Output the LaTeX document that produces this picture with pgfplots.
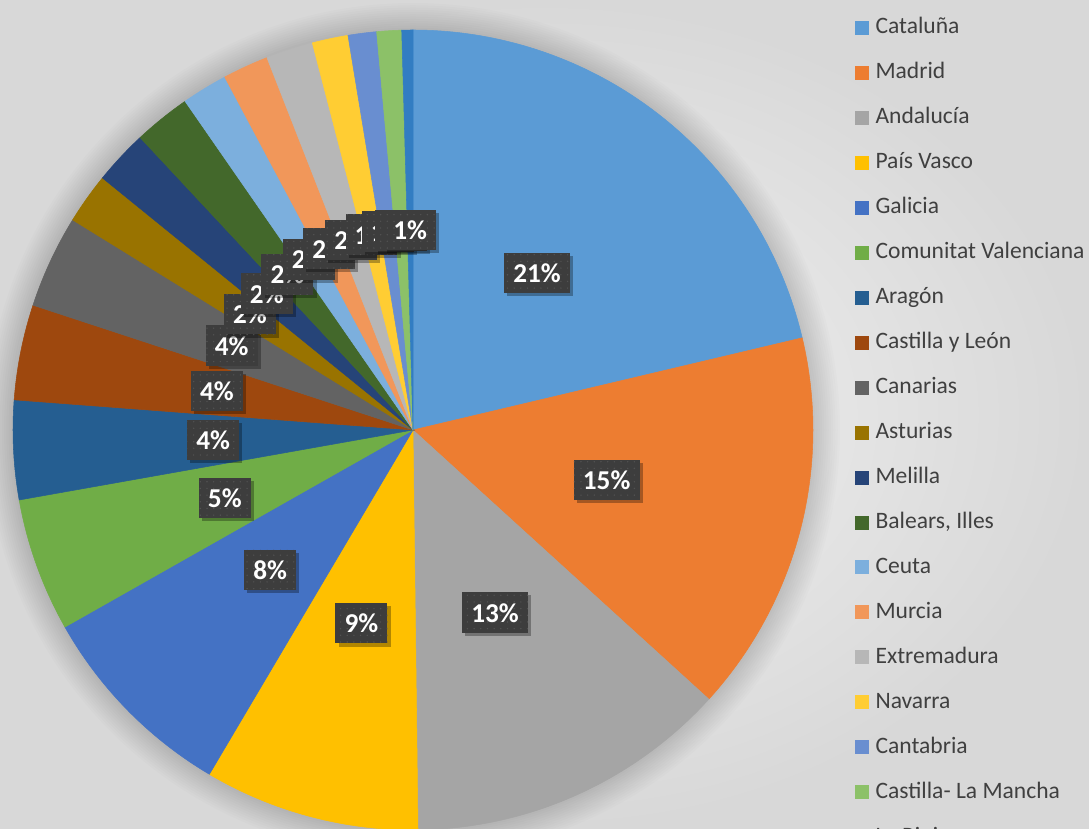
\documentclass[border=0pt]{standalone}
\usepackage{fontspec}
\setmainfont{Carlito}
\usepackage{pgfplots}
\pgfplotsset{compat=1.18}
\usetikzlibrary{patterns.meta,shadows}
\definecolor{catC}{HTML}{5B9BD5}
\definecolor{madC}{HTML}{ED7D31}
\definecolor{andC}{HTML}{A5A5A5}
\definecolor{pvC}{HTML}{FFC000}
\definecolor{galC}{HTML}{4472C4}
\definecolor{cvC}{HTML}{70AD47}
\definecolor{araC}{HTML}{255E91}
\definecolor{cylC}{HTML}{9E480E}
\definecolor{canC}{HTML}{636363}
\definecolor{astC}{HTML}{997300}
\definecolor{melC}{HTML}{264478}
\definecolor{balC}{HTML}{43682B}
\definecolor{ceuC}{HTML}{7CAFDD}
\definecolor{murC}{HTML}{F1975A}
\definecolor{extC}{HTML}{B7B7B7}
\definecolor{navC}{HTML}{FFCD33}
\definecolor{cantC}{HTML}{698ED0}
\definecolor{clmC}{HTML}{8CC168}
\definecolor{rioC}{HTML}{327DC2}
\definecolor{labC}{HTML}{3D3D3D}
\definecolor{labDot}{HTML}{525252}
\definecolor{legC}{HTML}{404040}
\definecolor{bgIn}{HTML}{F3F3F3}
\definecolor{bgOut}{HTML}{D8D8D8}

\newcommand\cum{0}
\newcommand\labels{}
% #1 value (percent), #2 colour, #3 legend text, #4 data label
\newcommand\slice[4]{%
  \pgfmathsetmacro\prevv{\cum}%
  \pgfmathsetmacro\cumnew{\cum+#1}%
  \xdef\cum{\cumnew}%
  \pgfmathsetmacro\aS{90-3.6*\cumnew}%
  \pgfmathsetmacro\aE{90-3.6*\prevv}%
  \pgfmathsetmacro\aM{(\aS+\aE)/2}%
  \pgfmathsetmacro\lx{0.5*cos(\aM)}%
  \pgfmathsetmacro\ly{0.5*sin(\aM)}%
  \edef\doit{\noexpand\addplot[fill=#2,draw=#2,line width=0.3pt,domain=\aS:\aE,samples=80] ({cos(x)},{sin(x)}) -- (axis cs:0,0) -- cycle;}%
  \doit
  \addlegendentry{#3}%
  \edef\tmp{\noexpand\node[lbl] at (axis cs:\lx,\ly) {\unexpanded{#4}};}%
  \xdef\labels{\unexpanded\expandafter{\labels}\unexpanded\expandafter{\tmp}}%
}

\begin{document}
\begin{tikzpicture}[
  lbl/.style={fill=labC, text=white, font=\bfseries\fontsize{15.5}{17}\selectfont,
    inner xsep=5.2pt, inner ysep=6pt, text height=11pt, text depth=0pt,
    postaction={pattern={Dots[distance=3.8pt,radius=0.45pt]}, pattern color=labDot},
    drop shadow={shadow xshift=1.8pt, shadow yshift=-1.8pt, opacity=0.3, fill=black}}]
\begin{scope}
\clip (0,0) rectangle (21.78cm,16.58cm);
\shade[inner color=bgIn, outer color=bgOut] (0,0) rectangle (21.78cm,16.58cm);
\foreach \i in {1,...,12} \fill[black,opacity=0.01] (8.26cm,7.98cm) circle ({8cm+\i*0.045cm});
\begin{axis}[
  at={(0.26cm,-0.02cm)}, anchor=south west,
  scale only axis, width=16cm, height=16cm,
  xmin=-1, xmax=1, ymin=-1, ymax=1,
  hide axis, clip=false,
  legend image code/.code={\fill[#1] (0pt,-3.7pt) rectangle (7.4pt,3.7pt);},
  legend cell align=left,
  legend style={at={(1.0525,1.0175)}, anchor=north west, draw=none, fill=none,
    inner sep=0pt, outer sep=0pt, row sep=12.6pt, column sep=4pt,
    font=\color{legC}\fontsize{13.4}{16}\selectfont,
    nodes={inner sep=0pt, text height=10pt, text depth=3pt}},
]
\slice{21.3}{catC}{Cataluña}{21\%}
\slice{15.45}{madC}{Madrid}{15\%}
\slice{13.05}{andC}{Andalucía}{13\%}
\slice{8.7}{pvC}{País Vasco}{9\%}
\slice{8.3}{galC}{Galicia}{8\%}
\slice{5.4}{cvC}{Comunitat Valenciana}{5\%}
\slice{4.0}{araC}{Aragón}{4\%}
\slice{3.85}{cylC}{Castilla y León}{4\%}
\slice{3.75}{canC}{Canarias}{4\%}
\slice{2.05}{astC}{Asturias}{2\%}
\slice{2.2}{melC}{Melilla}{2\%}
\slice{2.3}{balC}{Balears, Illes}{2\%}
\slice{1.85}{ceuC}{Ceuta}{2\%}
\slice{1.85}{murC}{Murcia}{2\%}
\slice{1.9}{extC}{Extremadura}{2\%}
\slice{1.45}{navC}{Navarra}{1\%}
\slice{1.15}{cantC}{Cantabria}{1\%}
\slice{1.0}{clmC}{Castilla- La Mancha}{1\%}
\slice{0.45}{rioC}{La Rioja}{1\%}
\labels
\end{axis}
\end{scope}
\pgfresetboundingbox
\path (0,0) rectangle (21.78cm,16.58cm);
\end{tikzpicture}
\end{document}
